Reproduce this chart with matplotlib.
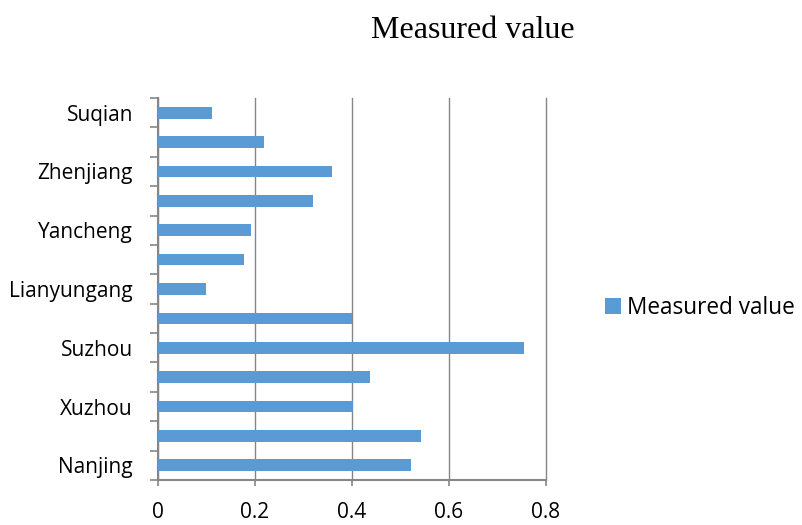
import matplotlib
matplotlib.use("Agg")
import matplotlib.pyplot as plt
from matplotlib.patches import Patch
import numpy as np

cities = ["Nanjing", "Wuxi", "Xuzhou", "Changzhou", "Suzhou", "Nantong",
          "Lianyungang", "Huai'an", "Yancheng", "Yangzhou", "Zhenjiang",
          "Taizhou", "Suqian"]
measured = [0.522, 0.543, 0.402, 0.437, 0.755, 0.400,
            0.098, 0.177, 0.192, 0.320, 0.358, 0.219, 0.111]
x_ticks = [0, 0.2, 0.4, 0.6, 0.8]
x_tick_labels = ["0", "0.2", "0.4", "0.6", "0.8"]
series_name = "Measured value"

bar_color = "#5B9BD5"
axis_gray = "#868686"
label_font = "Open Sans"

fig = plt.figure(figsize=(8.02, 5.25), dpi=100)
ax = fig.add_axes([158 / 802, 1 - 480 / 525, (546 - 158) / 802, (480 - 98) / 525])

ypos = np.arange(len(cities))
ax.barh(ypos, measured, height=0.4, color=bar_color, zorder=3)

ax.set_xlim(0, 0.8)
ax.set_ylim(-0.5, len(cities) - 0.5)
ax.set_xticks(x_ticks)
ax.set_xticklabels(x_tick_labels, fontsize=15, family=label_font)

# category labels: every other city, tick marks at category boundaries
ax.set_yticks(ypos)
ax.set_yticklabels([c if i % 2 == 0 else "" for i, c in enumerate(cities)],
                   fontsize=15, family=label_font)
ax.tick_params(axis="y", which="major", length=0, pad=18)
ax.set_yticks(np.arange(-0.5, len(cities), 1.0), minor=True)
ax.tick_params(axis="y", which="minor", length=6, width=1.2, color=axis_gray, direction="out")
ax.tick_params(axis="x", which="major", length=4, width=1.2, color=axis_gray,
               direction="out", pad=12)

ax.grid(axis="x", color=axis_gray, linewidth=1.0, zorder=0)
ax.grid(axis="y", visible=False)
for gl in ax.xaxis.get_gridlines():
    gl.set_clip_on(False)
for side in ["top", "right"]:
    ax.spines[side].set_visible(False)
for side in ["left", "bottom"]:
    ax.spines[side].set_color(axis_gray)
    ax.spines[side].set_linewidth(1.5)

fig.text(473 / 802, 1 - 38.5 / 525, series_name, ha="center", va="baseline",
         fontsize=23, family="Liberation Serif")

handle = Patch(facecolor=bar_color, edgecolor="none")
fig.legend([handle], [series_name], loc="center left",
           bbox_to_anchor=(589 / 802, 1 - 308 / 525), frameon=False,
           prop={"family": label_font, "size": 16.3},
           handlelength=0.7, handleheight=0.7, handletextpad=0.3,
           borderpad=0.2)

fig.savefig("out.png", dpi=100, facecolor="white")
